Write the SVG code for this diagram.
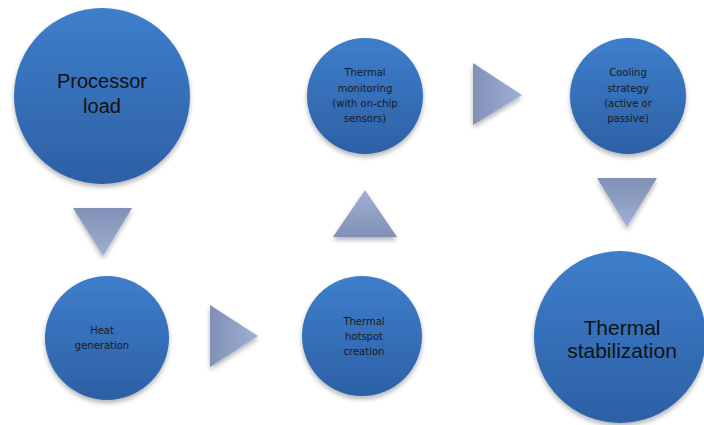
<svg xmlns="http://www.w3.org/2000/svg" width="704" height="425" viewBox="0 0 704 425">
<defs>
<linearGradient id="cg" x1="0" y1="0" x2="0" y2="1">
<stop offset="0" stop-color="#3e7ecb"/>
<stop offset="1" stop-color="#2d60a5"/>
</linearGradient>
<linearGradient id="tgDown" x1="0" y1="0" x2="0" y2="1">
<stop offset="0" stop-color="#8090b6"/>
<stop offset="1" stop-color="#a0b0d4"/>
</linearGradient>
<linearGradient id="tgUp" x1="0" y1="1" x2="0" y2="0">
<stop offset="0" stop-color="#8090b6"/>
<stop offset="1" stop-color="#a0b0d4"/>
</linearGradient>
<linearGradient id="tgRight" x1="0" y1="0" x2="1" y2="0">
<stop offset="0" stop-color="#8090b6"/>
<stop offset="1" stop-color="#a0b0d4"/>
</linearGradient>
<filter id="sh" x="-20%" y="-20%" width="140%" height="150%">
<feGaussianBlur in="SourceAlpha" stdDeviation="2.5"/>
<feOffset dx="0" dy="3" result="b"/>
<feComponentTransfer><feFuncA type="linear" slope="0.3"/></feComponentTransfer>
<feMerge><feMergeNode/><feMergeNode in="SourceGraphic"/></feMerge>
</filter>
</defs>
<style>
.node circle { fill: url(#cg); filter: url(#sh); }
.big { font-family: "Liberation Sans", Arial, sans-serif; font-size: 20px; fill: #111; text-anchor: middle; }
.huge { font-family: "Liberation Sans", Arial, sans-serif; font-size: 21px; fill: #111; text-anchor: middle; }
.small { font-family: "DejaVu Sans", sans-serif; font-size: 10px; fill: #1a1a1a; text-anchor: middle; }
.arrow polygon { filter: url(#sh); }
</style>
<rect width="704" height="425" fill="#ffffff"/>
<g id="connectors" class="arrow">
<polygon points="73,208 132,208 103,256" fill="url(#tgDown)"/>
<polygon points="210,305 210,367 258,336" fill="url(#tgRight)"/>
<polygon points="365,190 333,237 397,237" fill="url(#tgUp)"/>
<polygon points="473,63 473,125 522,95" fill="url(#tgRight)"/>
<polygon points="597,178 657,178 627,227" fill="url(#tgDown)"/>
</g>
<g id="processor-load" class="node">
<circle cx="102" cy="96" r="88"/>
<text class="big" x="102" y="88">Processor</text>
<text class="big" x="102" y="113">load</text>
</g>
<g id="heat-generation" class="node">
<circle cx="107" cy="338" r="62"/>
<text class="small" x="102" y="334">Heat</text>
<text class="small" x="102" y="349">generation</text>
</g>
<g id="thermal-hotspot" class="node">
<circle cx="362" cy="336" r="60"/>
<text class="small" x="364" y="325">Thermal</text>
<text class="small" x="364" y="340">hotspot</text>
<text class="small" x="364" y="355">creation</text>
</g>
<g id="thermal-monitoring" class="node">
<circle cx="365" cy="96" r="58"/>
<text class="small" x="365" y="76">Thermal</text>
<text class="small" x="365" y="92">monitoring</text>
<text class="small" x="365" y="107">(with on-chip</text>
<text class="small" x="365" y="122">sensors)</text>
</g>
<g id="cooling-strategy" class="node">
<circle cx="628" cy="96" r="58"/>
<text class="small" x="628" y="76">Cooling</text>
<text class="small" x="628" y="92">strategy</text>
<text class="small" x="628" y="107">(active or</text>
<text class="small" x="628" y="122">passive)</text>
</g>
<g id="thermal-stabilization" class="node">
<circle cx="620" cy="337" r="86"/>
<text class="huge" x="622" y="335">Thermal</text>
<text class="huge" x="622" y="358">stabilization</text>
</g>
</svg>
